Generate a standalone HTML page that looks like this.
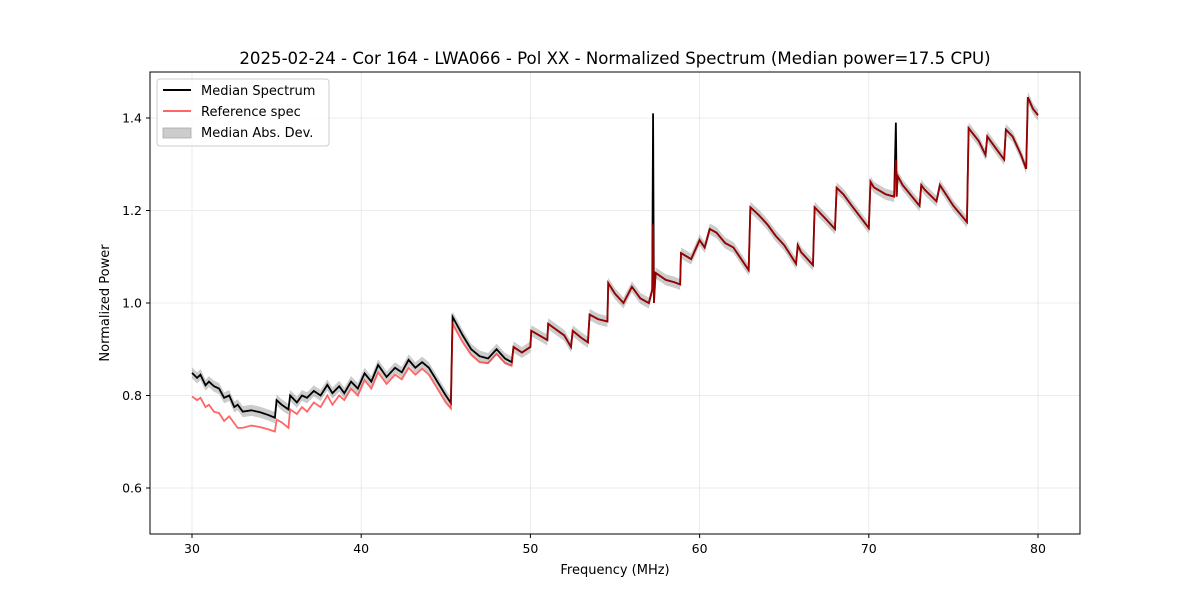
<!DOCTYPE html>
<html><head><meta charset="utf-8"><style>
body{margin:0;background:#fff;font-family:"Liberation Sans","DejaVu Sans",sans-serif}
svg text{font-family:"DejaVu Sans","Liberation Sans",sans-serif}
</style></head><body>
<svg id="c" width="1200" height="600" xmlns="http://www.w3.org/2000/svg"></svg>
<script>
const freqs=[30,30.3,30.5,30.8,31,31.3,31.6,31.9,32.2,32.5,32.7,33,33.5,34,34.5,34.9,35.0,35.3,35.7,35.8,36.2,36.5,36.8,37.2,37.6,38,38.3,38.7,39,39.4,39.8,40.2,40.6,41,41.5,42,42.4,42.8,43.2,43.6,44,44.5,45,45.3,45.4,46,46.5,47,47.5,48,48.5,48.9,49,49.5,50,50.05,51,51.05,52,52.4,52.5,53,53.4,53.5,54,54.55,54.6,55,55.5,56,56.5,57,57.2,57.25,57.3,57.4,58,58.5,58.85,58.9,59.5,60,60.3,60.6,61,61.5,62,62.9,63,63.5,64,64.5,65,65.7,65.8,66,66.7,66.8,67.5,68,68.1,68.5,69,70,70.1,70.3,71,71.5,71.6,71.65,71.7,72,73,73.1,73.3,74,74.2,75,75.8,75.9,76.5,76.9,77,77.5,78,78.1,78.5,79,79.3,79.4,79.7,80];
const median=[0.849,0.838,0.845,0.822,0.83,0.82,0.815,0.795,0.80,0.775,0.78,0.765,0.768,0.764,0.758,0.752,0.79,0.78,0.77,0.80,0.785,0.80,0.795,0.81,0.80,0.823,0.805,0.82,0.805,0.83,0.815,0.848,0.83,0.866,0.84,0.86,0.85,0.877,0.86,0.872,0.86,0.83,0.80,0.784,0.97,0.93,0.90,0.885,0.88,0.90,0.88,0.872,0.905,0.893,0.905,0.94,0.92,0.955,0.93,0.905,0.94,0.925,0.915,0.975,0.965,0.96,1.043,1.02,1.0,1.035,1.01,1.0,1.028,1.41,1.00,1.065,1.05,1.045,1.04,1.108,1.095,1.136,1.12,1.16,1.152,1.13,1.12,1.071,1.207,1.19,1.17,1.145,1.125,1.085,1.125,1.11,1.082,1.207,1.18,1.16,1.249,1.235,1.21,1.162,1.262,1.25,1.235,1.23,1.39,1.23,1.275,1.255,1.21,1.255,1.245,1.22,1.255,1.21,1.175,1.378,1.35,1.32,1.36,1.335,1.31,1.375,1.36,1.32,1.29,1.445,1.42,1.406];
const reference=[0.798,0.79,0.795,0.775,0.78,0.765,0.762,0.745,0.755,0.74,0.73,0.73,0.735,0.732,0.727,0.722,0.748,0.742,0.73,0.77,0.76,0.775,0.765,0.785,0.775,0.80,0.78,0.80,0.79,0.815,0.80,0.833,0.815,0.85,0.825,0.845,0.835,0.86,0.845,0.858,0.845,0.815,0.785,0.772,0.955,0.915,0.888,0.872,0.87,0.89,0.87,0.865,0.905,0.893,0.905,0.94,0.92,0.955,0.93,0.905,0.94,0.925,0.915,0.975,0.965,0.96,1.043,1.02,1.0,1.035,1.01,1.0,1.028,1.17,1.00,1.065,1.05,1.045,1.04,1.108,1.095,1.136,1.12,1.16,1.152,1.13,1.12,1.071,1.207,1.19,1.17,1.145,1.125,1.085,1.125,1.11,1.082,1.207,1.18,1.16,1.249,1.235,1.21,1.162,1.262,1.25,1.235,1.23,1.31,1.23,1.275,1.255,1.21,1.255,1.245,1.22,1.255,1.21,1.175,1.378,1.35,1.32,1.36,1.335,1.31,1.375,1.36,1.32,1.29,1.445,1.42,1.406];
const madWidth=0.012;
const xTicks=[30,40,50,60,70,80];
const yTicks=[0.6,0.8,1.0,1.2,1.4];

const NS="http://www.w3.org/2000/svg";
const svg=document.getElementById('c');
const L=150,R=1080,T=72,B=534;
const x=f=>192+(f-30)*(1038-192)/50;
const y=v=>534.25-(v-0.5)*462.5;
function el(tag,attrs,parent){const e=document.createElementNS(NS,tag);for(const k in attrs)e.setAttribute(k,attrs[k]);(parent||svg).appendChild(e);return e;}
function txt(s,attrs){const t=el('text',attrs);t.textContent=s;return t;}

xTicks.forEach(t=>{const g=el('line',{x1:x(t),x2:x(t),y1:T,y2:B,stroke:'#e6e6e6','stroke-width':0.8});

});
yTicks.forEach(t=>{const g=el('line',{x1:L,x2:R,y1:y(t),y2:y(t),stroke:'#e6e6e6','stroke-width':0.8});

});

let up=freqs.map((f,i)=>x(f)+','+y(median[i]+madWidth)).join(' ');
let dn=freqs.map((f,i)=>x(f)+','+y(median[i]-madWidth)).reverse().join(' ');
const band=el('polygon',{points:up+' '+dn,fill:'#000','fill-opacity':0.2});



const ml=el('polyline',{points:freqs.map((f,i)=>x(f)+','+y(median[i])).join(' '),fill:'none',stroke:'#000','stroke-width':1.8});


const rl=el('polyline',{points:freqs.map((f,i)=>x(f)+','+y(reference[i])).join(' '),fill:'none',stroke:'#ff0000','stroke-opacity':0.6,'stroke-width':1.8});



const fr=el('rect',{x:L,y:T,width:R-L,height:B-T,fill:'none',stroke:'#000','stroke-width':1});



xTicks.forEach(t=>{el('line',{x1:x(t),x2:x(t),y1:B,y2:B+4,stroke:'#000'});
const l=txt(String(t),{x:x(t),y:B+19,'text-anchor':'middle','font-size':12.5});

});
yTicks.forEach(t=>{el('line',{x1:L-4,x2:L,y1:y(t),y2:y(t),stroke:'#000'});
const l=txt(t.toFixed(1),{x:L-8,y:y(t)+4.5,'text-anchor':'end','font-size':12.5});

});

const xt=txt('Frequency (MHz)',{x:(L+R)/2,y:574,'text-anchor':'middle','font-size':13});


const yt=txt('Normalized Power',{x:0,y:0,'text-anchor':'middle','font-size':13,transform:'translate(109,303) rotate(-90)'});


const ti=txt('2025-02-24 - Cor 164 - LWA066 - Pol XX - Normalized Spectrum (Median power=17.5 CPU)',{x:(L+R)/2,y:64,'text-anchor':'middle','font-size':16.6});



const lg=el('g',{});


el('rect',{x:157,y:79,width:172,height:67,rx:3,fill:'#fff','fill-opacity':0.8,stroke:'#ccc'},lg);
el('line',{x1:163,x2:191,y1:90,y2:90,stroke:'#000','stroke-width':2},lg);
el('line',{x1:163,x2:191,y1:111,y2:111,stroke:'#ff6666','stroke-width':2},lg);
el('rect',{x:163,y:128,width:28,height:10,fill:'#ccc',stroke:'#aaa','stroke-width':0.8},lg);
[['Median Spectrum',95,'legend-entry-median'],['Reference spec',116,'legend-entry-reference'],['Median Abs. Dev.',137,'legend-entry-mad']].forEach(a=>{
const t=el('text',{x:201,y:a[1],'font-size':13},lg);t.textContent=a[0];

});
</script>
</body></html>
